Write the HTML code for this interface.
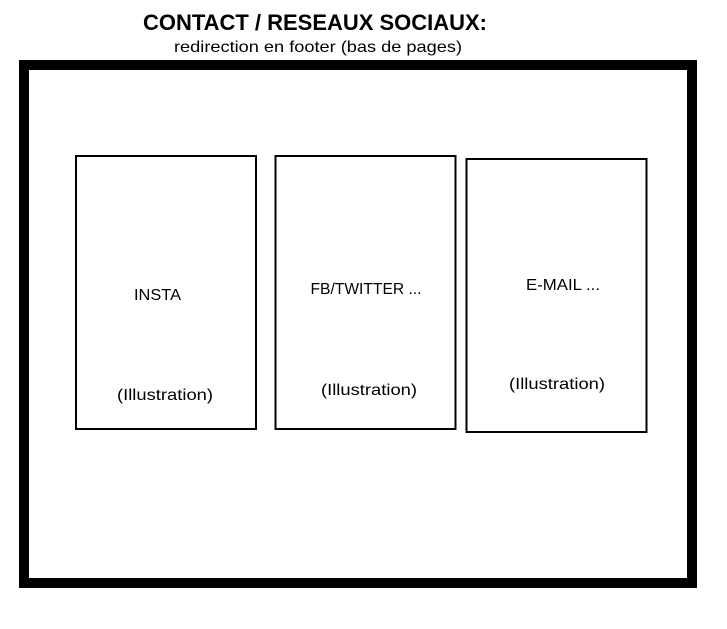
<!DOCTYPE html>
<html><head><meta charset="utf-8"><style>
html,body{margin:0;padding:0;background:#fff;width:727px;height:629px;overflow:hidden}
svg text{font-family:"Liberation Sans",sans-serif;fill:#000}
</style></head><body>
<svg width="727" height="629" viewBox="0 0 727 629" xmlns="http://www.w3.org/2000/svg">
<text x="315" y="30" text-anchor="middle" font-size="22" font-weight="bold" textLength="344" lengthAdjust="spacingAndGlyphs">CONTACT / RESEAUX SOCIAUX:</text>
<text x="318" y="52" text-anchor="middle" font-size="16" textLength="288" lengthAdjust="spacingAndGlyphs">redirection en footer (bas de pages)</text>
<rect x="24" y="65" width="668" height="518" fill="none" stroke="#000" stroke-width="10"/>
<rect x="76" y="156" width="180" height="273" fill="none" stroke="#000" stroke-width="2"/>
<rect x="275.5" y="156" width="180" height="273" fill="none" stroke="#000" stroke-width="2"/>
<rect x="466.5" y="159" width="180" height="273" fill="none" stroke="#000" stroke-width="2"/>
<text x="157.5" y="300" text-anchor="middle" font-size="16" textLength="47" lengthAdjust="spacingAndGlyphs">INSTA</text>
<text x="165" y="400" text-anchor="middle" font-size="16" textLength="96" lengthAdjust="spacingAndGlyphs">(Illustration)</text>
<text x="366" y="294" text-anchor="middle" font-size="16" textLength="111" lengthAdjust="spacingAndGlyphs">FB/TWITTER ...</text>
<text x="369" y="395" text-anchor="middle" font-size="16" textLength="96" lengthAdjust="spacingAndGlyphs">(Illustration)</text>
<text x="563" y="290" text-anchor="middle" font-size="16" textLength="74" lengthAdjust="spacingAndGlyphs" fill="#222">E-MAIL ...</text>
<text x="557" y="389" text-anchor="middle" font-size="16" textLength="96" lengthAdjust="spacingAndGlyphs">(Illustration)</text>
</svg>
</body></html>
